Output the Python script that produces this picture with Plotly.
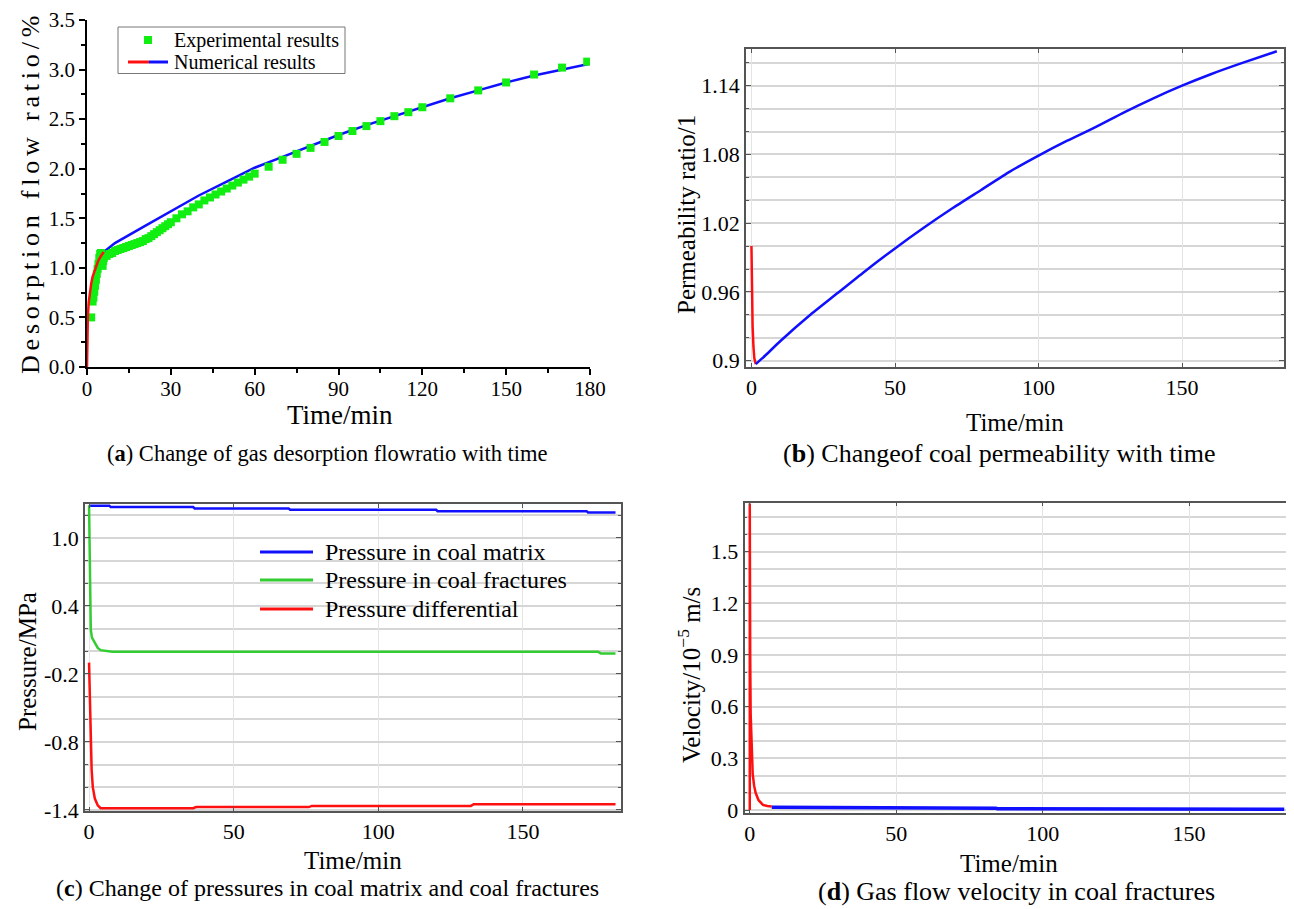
import plotly.graph_objects as go

W, H = 1294, 909
OFF = 8  # page body margin of the generated html
FONT = "Liberation Serif"

# ---------------- data ----------------
# (a) desorption flow ratio
exp_t = [1.5, 2.0, 2.3, 2.6, 2.9, 3.2, 3.5, 3.8, 4.1, 4.4, 4.7, 5.0, 5.6, 5.8, 6.0,
         7, 8, 9, 10, 11, 12, 13, 14, 15, 16, 17, 18, 19, 20, 21, 22, 23, 24, 25, 26,
         27, 28, 29, 30, 32, 34, 36, 38, 40, 42, 44, 46, 48, 50, 52, 54, 56, 58, 60,
         65, 70, 75, 80, 85, 90, 95, 100, 105, 110, 115, 120, 130, 140, 150, 160, 170, 179]
exp_v = [0.50, 0.66, 0.70, 0.76, 0.82, 0.88, 0.94, 0.99, 1.04, 1.10, 1.14, 1.15, 1.02, 1.07, 1.10,
         1.12, 1.14, 1.15, 1.17, 1.18, 1.19, 1.20, 1.21, 1.22, 1.23, 1.24, 1.25, 1.26, 1.27, 1.29,
         1.30, 1.32, 1.34, 1.36, 1.38, 1.40, 1.42, 1.44, 1.46, 1.50, 1.54, 1.57, 1.61, 1.64, 1.68,
         1.71, 1.74, 1.77, 1.80, 1.83, 1.86, 1.89, 1.92, 1.95, 2.02, 2.09, 2.15, 2.21, 2.27, 2.33,
         2.38, 2.43, 2.48, 2.53, 2.57, 2.62, 2.71, 2.79, 2.87, 2.95, 3.02, 3.08]
num_red_t = [0, 0.1, 0.3, 0.6, 1.0, 1.5, 2.0, 3.0, 4.0, 5.0, 6.0]
num_red_v = [0.0, 0.30, 0.50, 0.65, 0.75, 0.84, 0.91, 1.00, 1.07, 1.12, 1.16]
num_blue_t = [6, 10, 20, 30, 40, 50, 60, 70, 80, 90, 100, 110, 120, 130, 140, 150, 160, 170, 180]
num_blue_v = [1.16, 1.25, 1.41, 1.57, 1.73, 1.87, 2.01, 2.12, 2.23, 2.34, 2.44, 2.53, 2.62, 2.71,
              2.79, 2.87, 2.94, 3.00, 3.06]

# (b) permeability ratio
perm_red_t = [0, 0.05, 0.2, 0.4, 0.7, 1.0, 1.5]
perm_red_v = [1.0, 0.975, 0.953, 0.93, 0.912, 0.902, 0.897]
perm_blue_t = [1.5, 5, 10, 20, 30, 40, 50, 60, 70, 80, 90, 100, 110, 120, 130, 140, 150, 160, 170, 183]
perm_blue_v = [0.897, 0.905, 0.917, 0.939, 0.959, 0.979, 0.998, 1.016, 1.033, 1.049, 1.065, 1.079,
               1.092, 1.104, 1.117, 1.129, 1.140, 1.150, 1.159, 1.170]

# (c) pressures
pm_t = [0, 7, 7.5, 36, 36.5, 69, 69.5, 120, 120.5, 172, 172.5, 182]
pm_v = [1.285, 1.285, 1.273, 1.273, 1.261, 1.261, 1.249, 1.249, 1.237, 1.237, 1.225, 1.225]
pf_t = [0, 0.2, 0.4, 0.6, 1, 2, 3, 4, 6, 8, 176, 177, 182]
pf_v = [1.29, 0.75, 0.35, 0.19, 0.12, 0.07, 0.03, 0.01, 0.0, -0.005, -0.005, -0.02, -0.02]
pd_t = [0, 0.3, 0.6, 0.9, 1.3, 2, 3, 4, 36, 37, 76, 77, 132, 133, 182]
pd_v = [-0.10, -0.45, -0.75, -1.05, -1.20, -1.30, -1.36, -1.385, -1.385, -1.375, -1.375,
        -1.365, -1.365, -1.35, -1.35]

# (d) velocity
vel_red_t = [0, 0, 0.05, 0.15, 0.3, 0.6, 1.0, 1.5, 2, 3, 4.5, 6, 7.5]
vel_red_v = [0, 1.78, 1.5, 0.9, 0.56, 0.35, 0.21, 0.14, 0.10, 0.057, 0.03, 0.023, 0.02]
vel_blue_t = [7.5, 43, 43.5, 84, 84.5, 132, 132.5, 182.5]
vel_blue_v = [0.016, 0.016, 0.011, 0.011, 0.008, 0.008, 0.004, 0.004]

# tick labels
a_xticks = [0, 30, 60, 90, 120, 150, 180]
b_yticks = [0.9, 0.96, 1.02, 1.08, 1.14]
b_yticktext = ["0.9", "0.96", "1.02", "1.08", "1.14"]
c_yticks = [-1.4, -0.8, -0.2, 0.4, 1.0]
c_yticktext = ["-1.4", "-0.8", "-0.2", "0.4", "1.0"]
d_yticks = [0, 0.3, 0.6, 0.9, 1.2, 1.5]
d_yticktext = ["0", "0.3", "0.6", "0.9", "1.2", "1.5"]
time_ticks = [0, 50, 100, 150]

BLUE = "#1010ff"
RED = "#ff1010"
GREEN_M = "#11ee11"
GREEN_L = "#33cc33"


def px(x):
    return (x - OFF) / W


def py(y):
    return 1 - (y - OFF) / H


fig = go.Figure()

# ---------------- traces ----------------
fig.add_trace(go.Scatter(x=num_blue_t, y=num_blue_v, mode="lines", line=dict(color=BLUE, width=2.5),
                         xaxis="x", yaxis="y", showlegend=False))
fig.add_trace(go.Scatter(x=exp_t, y=exp_v, mode="markers",
                         marker=dict(symbol="square", size=8, color=GREEN_M, line=dict(width=0)),
                         xaxis="x", yaxis="y", showlegend=False))
fig.add_trace(go.Scatter(x=num_red_t, y=num_red_v, mode="lines", line=dict(color=RED, width=2.5),
                         xaxis="x", yaxis="y", showlegend=False))

fig.add_trace(go.Scatter(x=perm_red_t, y=perm_red_v, mode="lines", line=dict(color=RED, width=2.5),
                         xaxis="x2", yaxis="y2", showlegend=False))
fig.add_trace(go.Scatter(x=perm_blue_t, y=perm_blue_v, mode="lines",
                         line=dict(color=BLUE, width=2.5, shape="spline", smoothing=0.6),
                         xaxis="x2", yaxis="y2", showlegend=False))

fig.add_trace(go.Scatter(x=pm_t, y=pm_v, mode="lines", line=dict(color=BLUE, width=2.5),
                         xaxis="x3", yaxis="y3", showlegend=False))
fig.add_trace(go.Scatter(x=pf_t, y=pf_v, mode="lines", line=dict(color=GREEN_L, width=2.5),
                         xaxis="x3", yaxis="y3", showlegend=False))
fig.add_trace(go.Scatter(x=pd_t, y=pd_v, mode="lines", line=dict(color=RED, width=2.5),
                         xaxis="x3", yaxis="y3", showlegend=False))

fig.add_trace(go.Scatter(x=vel_red_t, y=vel_red_v, mode="lines", line=dict(color=RED, width=2.5),
                         xaxis="x4", yaxis="y4", showlegend=False))
fig.add_trace(go.Scatter(x=vel_blue_t, y=vel_blue_v, mode="lines", line=dict(color=BLUE, width=3.5),
                         xaxis="x4", yaxis="y4", showlegend=False))

tickfont_a = dict(family=FONT, size=21, color="black")
tickfont = dict(family=FONT, size=22, color="black")
GRID_H = "#d6d6d6"
GRID_V = "#e4e4e4"
BOX = "#555555"

# ---------------- axes ----------------
layout = dict(
    width=W, height=H, margin=dict(l=0, r=0, t=0, b=0, pad=0, autoexpand=False),
    paper_bgcolor="white", plot_bgcolor="white", showlegend=False,
    font=dict(family=FONT, color="black"),
    # (a)
    xaxis=dict(domain=[px(87), px(590)], range=[0, 180], anchor="y", automargin=False,
               tickvals=a_xticks, ticks="outside", ticklen=6, tickwidth=1.5, tickcolor="black",
               ticklabelstandoff=-4, ticklabeloverflow="allow",
               showline=True, linecolor="black", linewidth=1.5, showgrid=False, zeroline=False,
               minor=dict(tickmode="linear", tick0=15, dtick=30, ticks="outside", ticklen=4,
                          tickcolor="black", showgrid=False),
               tickfont=tickfont_a),
    yaxis=dict(domain=[py(367), py(20)], range=[0, 3.5], anchor="x", automargin=False,
               tickmode="linear", tick0=0, dtick=0.5, tickformat=".1f", ticklabeloverflow="allow",
               ticks="outside", ticklen=6, tickwidth=1.5, tickcolor="black",
               showline=True, linecolor="black", linewidth=1.5, showgrid=False, zeroline=False,
               minor=dict(tickmode="linear", tick0=0.25, dtick=0.5, ticks="outside", ticklen=4,
                          tickcolor="black", showgrid=False),
               tickfont=tickfont_a),
    # (b)
    xaxis2=dict(domain=[px(746), px(1284)], range=[-1.9, 185.5], anchor="y2", automargin=False,
                tickvals=time_ticks, ticks="inside", ticklen=4, tickcolor=BOX, ticklabeloverflow="allow",
                showline=True, mirror="allticks", linecolor=BOX, linewidth=1.5,
                showgrid=True, gridcolor=GRID_V, gridwidth=1, zeroline=False, tickfont=tickfont),
    yaxis2=dict(domain=[py(367), py(49)], range=[0.8945, 1.172], anchor="x2", automargin=False,
                tickvals=b_yticks, ticktext=b_yticktext, ticks="inside", ticklen=5, tickcolor=BOX,
                ticklabeloverflow="allow",
                showline=True, mirror="allticks", linecolor=BOX, linewidth=1.5,
                showgrid=True, gridcolor=GRID_H, gridwidth=1.5, zeroline=False,
                minor=dict(tickmode="linear", tick0=0.9, dtick=0.02, ticks="inside", ticklen=3,
                           tickcolor=BOX, showgrid=True, gridcolor=GRID_H, gridwidth=1.5),
                tickfont=tickfont),
    # (c)
    xaxis3=dict(domain=[px(85), px(621)], range=[-1.4, 183.9], anchor="y3", automargin=False,
                tickvals=time_ticks, ticks="inside", ticklen=4, tickcolor=BOX, ticklabeloverflow="allow",
                showline=True, mirror="allticks", linecolor=BOX, linewidth=1.5,
                showgrid=True, gridcolor=GRID_V, gridwidth=1, zeroline=False, tickfont=tickfont),
    yaxis3=dict(domain=[py(811), py(504)], range=[-1.41, 1.30], anchor="x3", automargin=False,
                tickvals=c_yticks, ticktext=c_yticktext, ticks="inside", ticklen=5, tickcolor=BOX,
                ticklabeloverflow="allow",
                showline=True, mirror="allticks", linecolor=BOX, linewidth=1.5,
                showgrid=True, gridcolor=GRID_H, gridwidth=1.5, zeroline=False,
                minor=dict(tickmode="linear", tick0=-1.4, dtick=0.2, ticks="inside", ticklen=3,
                           tickcolor=BOX, showgrid=True, gridcolor=GRID_H, gridwidth=1.5),
                tickfont=tickfont),
    # (d)
    xaxis4=dict(domain=[px(744.5), px(1291)], range=[-1.8, 184.8], anchor="y4", automargin=False,
                tickvals=time_ticks, ticks="inside", ticklen=4, tickcolor=BOX, ticklabeloverflow="allow",
                showline=True, mirror="allticks", linecolor=BOX, linewidth=1.5,
                showgrid=True, gridcolor=GRID_V, gridwidth=1, zeroline=False, tickfont=tickfont),
    yaxis4=dict(domain=[py(813.3), py(502.7)], range=[-0.019, 1.784], anchor="x4", automargin=False,
                tickvals=d_yticks, ticktext=d_yticktext, ticks="inside", ticklen=5, tickcolor=BOX,
                ticklabeloverflow="allow",
                showline=True, mirror="allticks", linecolor=BOX, linewidth=1.5,
                showgrid=True, gridcolor=GRID_H, gridwidth=1.5, zeroline=False,
                minor=dict(tickmode="linear", tick0=0, dtick=0.1, ticks="inside", ticklen=3,
                           tickcolor=BOX, showgrid=True, gridcolor=GRID_H, gridwidth=1.5),
                tickfont=tickfont),
)
fig.update_layout(**layout)

# ---------------- annotations (titles, captions, legends) ----------------
ann = []


def text(x, y, s, size, angle=0, xanchor="center"):
    ann.append(dict(x=px(x), y=py(y), xref="paper", yref="paper", text=s, showarrow=False,
                    textangle=angle, xanchor=xanchor, yanchor="middle",
                    font=dict(family=FONT, size=size, color="black")))


# axis titles
text(30, 193, '<span style="letter-spacing:4.8px">Desorption flow ratio/%</span>', 26, -90)
text(340, 415, "Time/min", 27)
text(687, 215, "Permeability ratio/1", 25, -90)
text(1015, 423, "Time/min", 25)
text(27, 662, "Pressure/MPa", 25, -90)
text(353, 860, "Time/min", 25)
text(689, 675, "Velocity/10<sup>−5</sup> m/s", 25, -90)
text(1009, 863, "Time/min", 25)

# captions
text(327, 453, "(<b>a</b>) Change of gas desorption flowratio with time", 22.5)
text(1000, 453, "(<b>b</b>) Changeof coal permeability with time", 26)
text(327, 888, "(<b>c</b>) Change of pressures in coal matrix and coal fractures", 24)
text(1016, 891, "(<b>d</b>) Gas flow velocity in coal fractures", 26)

# legend (a)
text(172, 40, "Experimental results", 20, xanchor="left")
text(172, 62, "Numerical results", 20, xanchor="left")
# legend (c)
text(323, 552, "Pressure in coal matrix", 24, xanchor="left")
text(323, 580, "Pressure in coal fractures", 24, xanchor="left")
text(323, 609, "Pressure differential", 24, xanchor="left")

fig.update_layout(annotations=ann)

shapes = []


def pshape(**kw):
    kw.setdefault("xref", "paper")
    kw.setdefault("yref", "paper")
    shapes.append(kw)


# legend (a) box and symbols
pshape(type="rect", x0=px(118), x1=px(345), y0=py(73.5), y1=py(27),
       line=dict(color="#777777", width=1), fillcolor="rgba(0,0,0,0)")
pshape(type="rect", x0=px(144), x1=px(152), y0=py(44), y1=py(36),
       line=dict(width=0), fillcolor=GREEN_M)
pshape(type="line", x0=px(128), x1=px(149), y0=py(62), y1=py(62), line=dict(color=RED, width=3))
pshape(type="line", x0=px(149), x1=px(168), y0=py(62), y1=py(62), line=dict(color=BLUE, width=3))
# legend (c) symbols
pshape(type="line", x0=px(260), x1=px(313), y0=py(552), y1=py(552), line=dict(color=BLUE, width=3))
pshape(type="line", x0=px(260), x1=px(313), y0=py(580), y1=py(580), line=dict(color=GREEN_L, width=3))
pshape(type="line", x0=px(260), x1=px(313), y0=py(609), y1=py(609), line=dict(color=RED, width=3))

fig.update_layout(shapes=shapes)

fig.write_html("out.html")
